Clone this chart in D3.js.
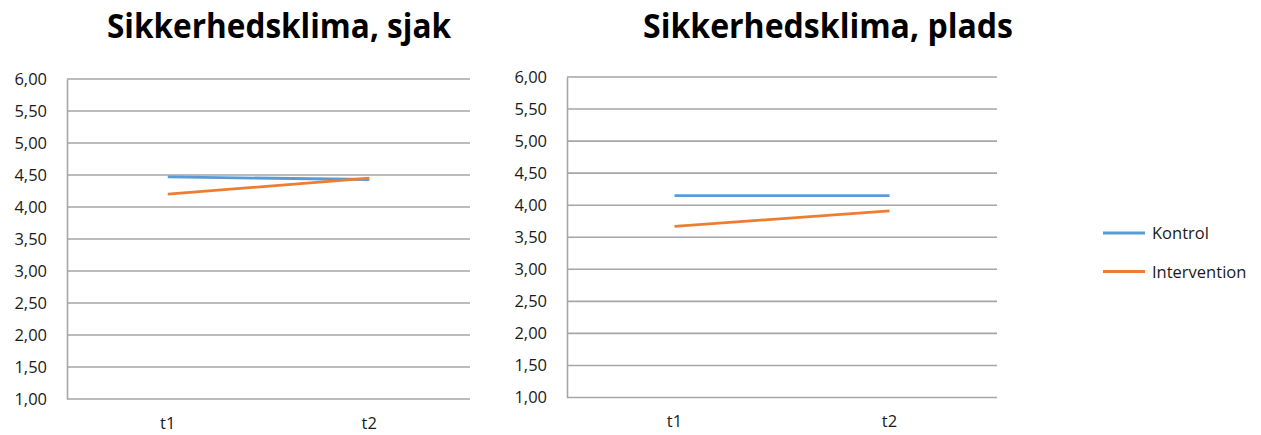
<!DOCTYPE html>
<html>
<head>
<meta charset="utf-8">
<script src="https://cdn.jsdelivr.net/npm/d3@7"></script>
<style>
  body { margin: 0; background: #fff; }
  svg { display: block; }
  text { font-family: "Open Sans", Lato, sans-serif; }
</style>
</head>
<body>
<svg id="chart" width="1261" height="435"></svg>
<script>
// Measurement points
const periods = ["t1", "t2"];
// Y axis ticks (Danish decimal comma)
const yTicks = [1, 1.5, 2, 2.5, 3, 3.5, 4, 4.5, 5, 5.5, 6];
// Series names
const seriesNames = ["Kontrol", "Intervention"];
const seriesColors = ["#5b9bd5", "#ed7d31"];

// Panel: Sikkerhedsklima, sjak
const sjakKontrol = [4.47, 4.43];
const sjakIntervention = [4.20, 4.45];
// Panel: Sikkerhedsklima, plads
const pladsKontrol = [4.15, 4.15];
const pladsIntervention = [3.67, 3.91];

const panels = [
  { title: "Sikkerhedsklima, sjak", series: [sjakKontrol, sjakIntervention],
    x0: 67, x1: 470, y0: 79, y1: 399, titleX: 279, titleW: 344 },
  { title: "Sikkerhedsklima, plads", series: [pladsKontrol, pladsIntervention],
    x0: 567, x1: 997, y0: 77, y1: 397.5, titleX: 828, titleW: 370 }
];

const svg = d3.select("#chart");
const fmt = v => d3.format(".2f")(v).replace(".", ",");
const labelFont = "'Open Sans', Lato, sans-serif";

panels.forEach(p => {
  const g = svg.append("g");
  const x = d3.scaleBand().domain(periods).range([p.x0, p.x1]);
  const y = d3.scaleLinear().domain([1, 6]).range([p.y1, p.y0]);

  // title
  g.append("text")
    .attr("x", p.titleX - p.titleW / 2).attr("y", 38)
    .attr("font-family", "Lato, 'Open Sans', sans-serif")
    .attr("font-size", 34).attr("font-weight", "bold")
    .attr("fill", "#000")
    .attr("textLength", p.titleW).attr("lengthAdjust", "spacingAndGlyphs")
    .text(p.title);

  // horizontal gridlines
  g.append("g").selectAll("line").data(yTicks).join("line")
    .attr("x1", p.x0).attr("x2", p.x1)
    .attr("y1", d => y(d)).attr("y2", d => y(d))
    .attr("stroke", "#a6a6a6").attr("stroke-width", 1.6);

  // y axis
  const yAxis = g.append("g")
    .attr("transform", `translate(${p.x0},0)`)
    .call(d3.axisLeft(y).tickValues(yTicks).tickFormat(fmt).tickSize(0).tickPadding(20));
  yAxis.select(".domain").attr("stroke", "#a6a6a6").attr("stroke-width", 1.6);
  yAxis.selectAll("text").attr("font-size", 16.5).attr("fill", "#1a1a1a")
    .attr("font-family", labelFont);

  // x axis labels
  const xAxis = g.append("g")
    .attr("transform", `translate(0,${p.y1})`)
    .call(d3.axisBottom(x).tickSize(0).tickPadding(18));
  xAxis.select(".domain").remove();
  xAxis.selectAll("text").attr("font-size", 16.5).attr("fill", "#1a1a1a")
    .attr("font-family", labelFont);

  // series lines
  const line = d3.line()
    .x((d, i) => x(periods[i]) + x.bandwidth() / 2)
    .y(d => y(d));
  p.series.forEach((s, i) => {
    g.append("path").datum(s)
      .attr("d", line)
      .attr("fill", "none")
      .attr("stroke", seriesColors[i])
      .attr("stroke-width", 2.8)
      .attr("stroke-linecap", "butt");
  });
});

// legend
const legend = svg.append("g");
seriesNames.forEach((name, i) => {
  const ly = 233 + i * 38.5;
  legend.append("line")
    .attr("x1", 1103).attr("x2", 1145)
    .attr("y1", ly).attr("y2", ly)
    .attr("stroke", seriesColors[i]).attr("stroke-width", 2.8);
  legend.append("text")
    .attr("x", 1152).attr("y", ly + 6)
    .attr("font-size", 16.5).attr("fill", "#1a1a1a")
    .attr("font-family", labelFont)
    .text(name);
});
</script>
</body>
</html>
